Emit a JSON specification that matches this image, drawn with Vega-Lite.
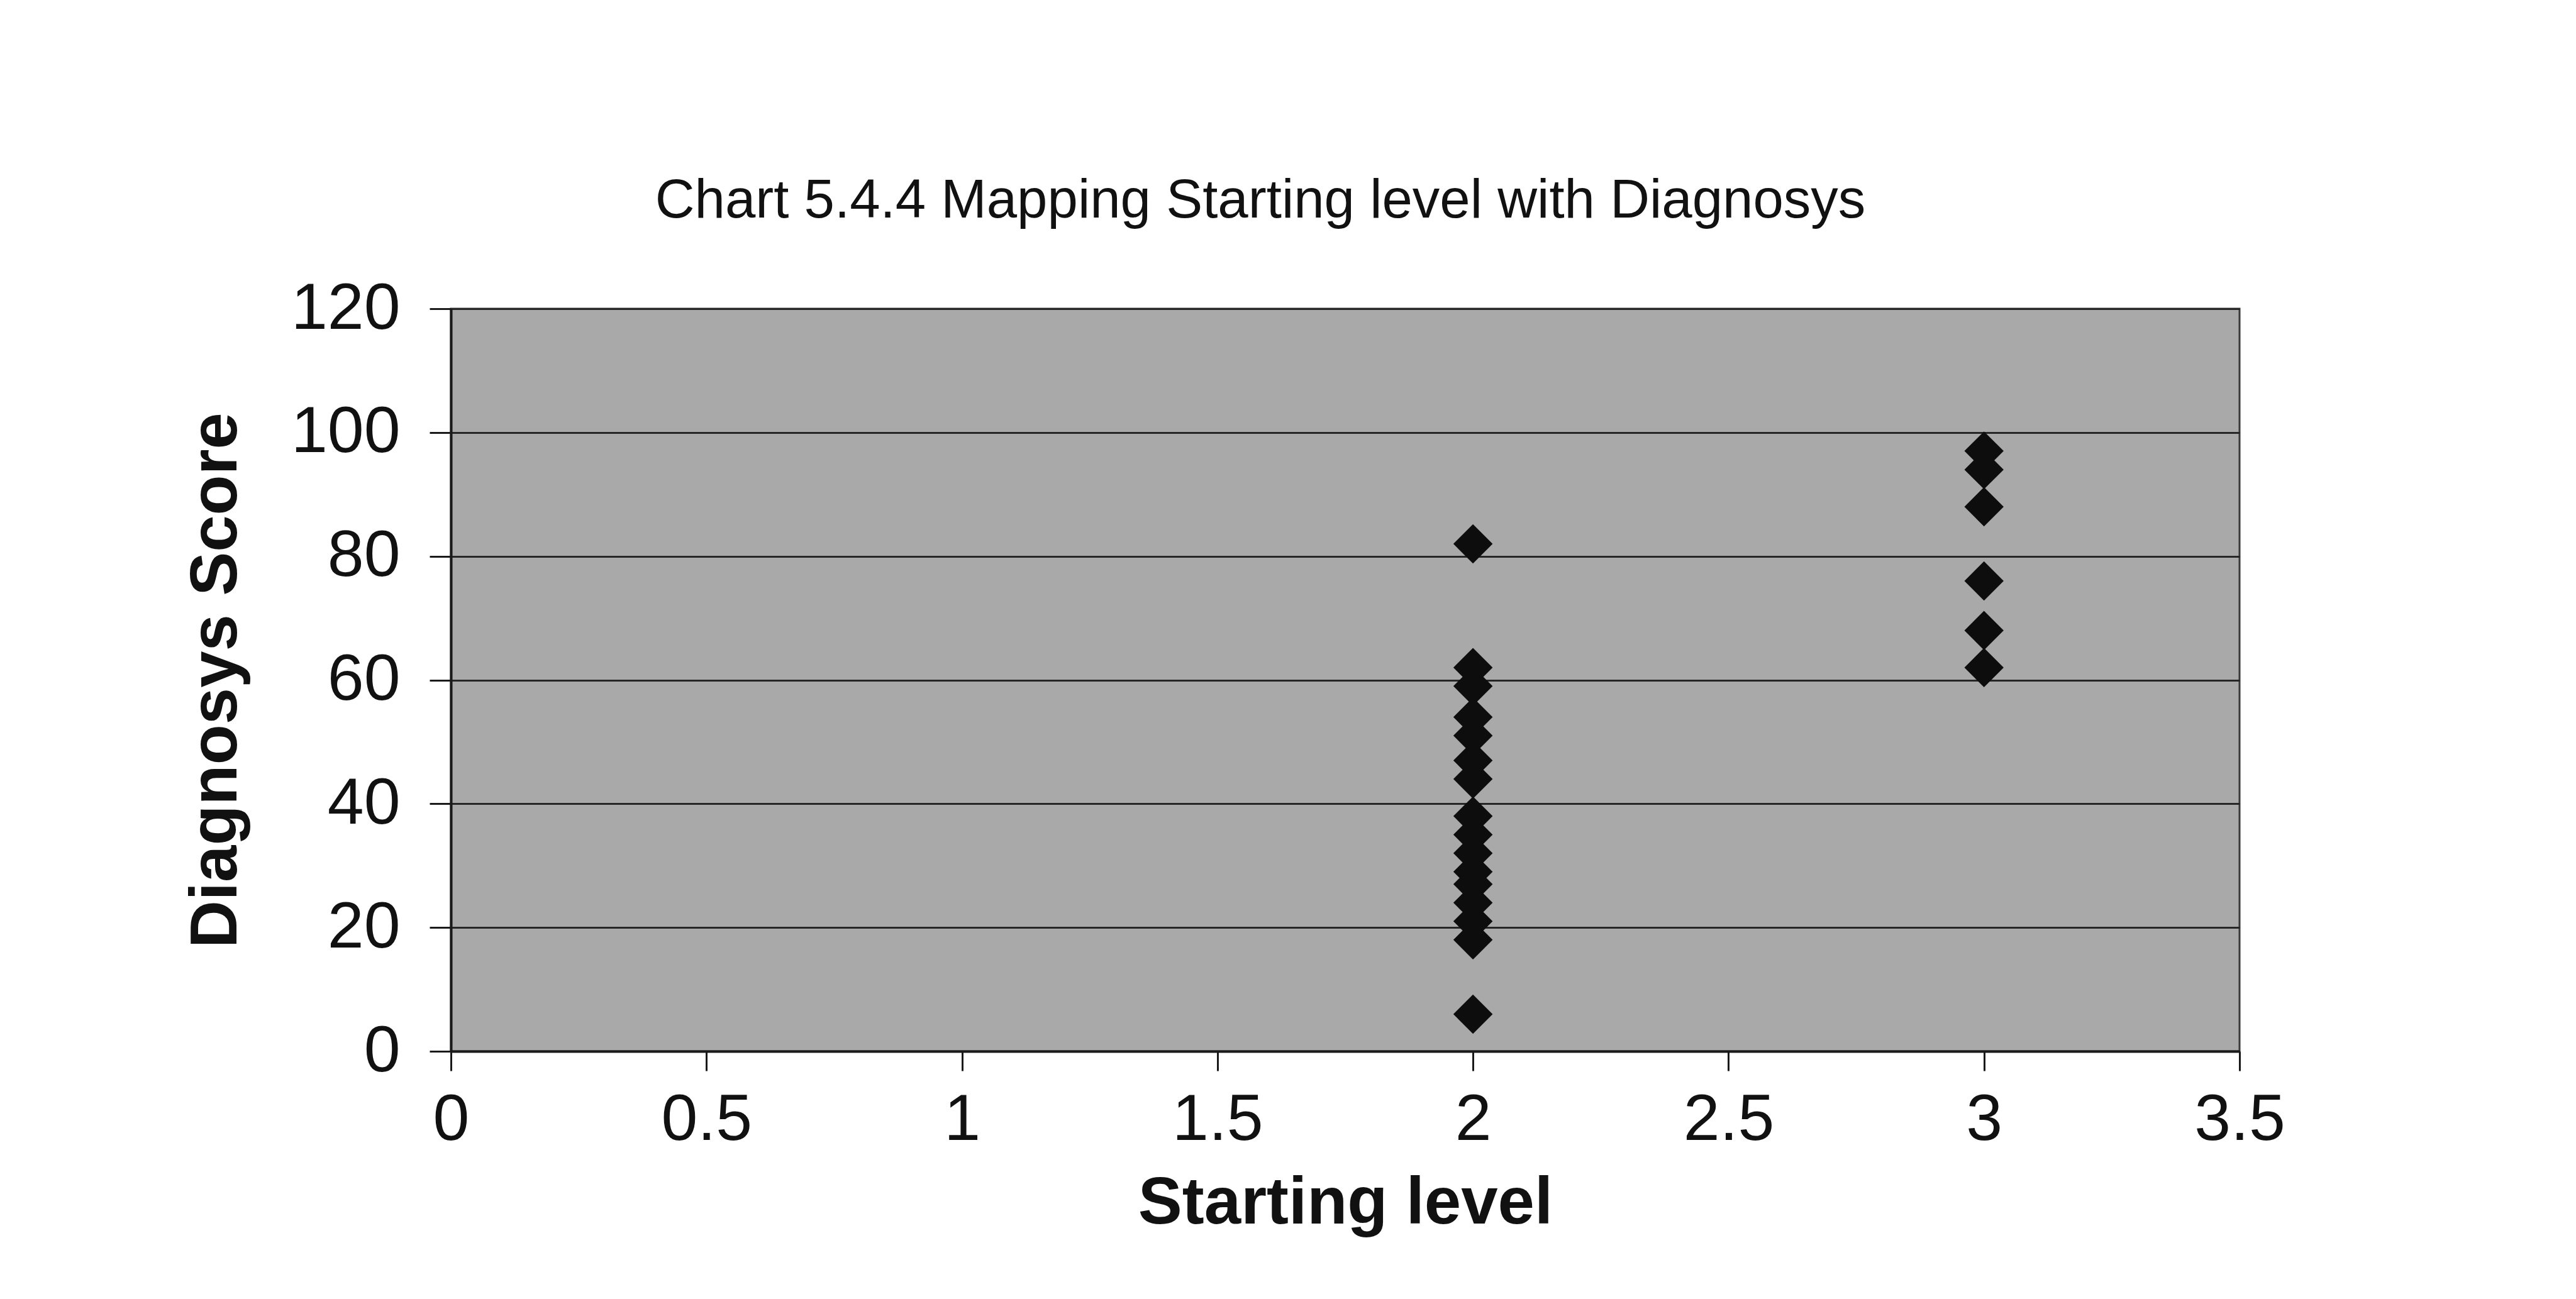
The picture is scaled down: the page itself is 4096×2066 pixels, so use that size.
{
  "$schema": "https://vega.github.io/schema/vega-lite/v6.json",
  "width": 2844,
  "height": 1181,
  "autosize": {"type": "none"},
  "padding": {"left": 717, "top": 491, "right": 535, "bottom": 394},
  "background": "white",
  "title": {
    "text": "Chart 5.4.4 Mapping Starting level with Diagnosys",
    "font": "Liberation Sans",
    "fontSize": 87,
    "fontWeight": "normal",
    "color": "#111111",
    "anchor": "middle",
    "frame": "group",
    "baseline": "alphabetic",
    "dx": -135,
    "offset": 6
  },
  "data": {
    "values": [
      {"level": 2, "score": 82},
      {"level": 2, "score": 62},
      {"level": 2, "score": 59},
      {"level": 2, "score": 54},
      {"level": 2, "score": 51},
      {"level": 2, "score": 47},
      {"level": 2, "score": 44},
      {"level": 2, "score": 38},
      {"level": 2, "score": 35},
      {"level": 2, "score": 32},
      {"level": 2, "score": 29},
      {"level": 2, "score": 27},
      {"level": 2, "score": 24},
      {"level": 2, "score": 21},
      {"level": 2, "score": 18},
      {"level": 2, "score": 6},
      {"level": 3, "score": 97},
      {"level": 3, "score": 94},
      {"level": 3, "score": 88},
      {"level": 3, "score": 76},
      {"level": 3, "score": 68},
      {"level": 3, "score": 62}
    ]
  },
  "mark": {
    "type": "point",
    "shape": "diamond",
    "filled": true,
    "size": 3900,
    "color": "#0d0d0d",
    "opacity": 1,
    "strokeWidth": 0
  },
  "encoding": {
    "x": {
      "field": "level",
      "type": "quantitative",
      "scale": {"domain": [0, 3.5], "nice": false, "zero": false},
      "axis": {
        "values": [0, 0.5, 1, 1.5, 2, 2.5, 3, 3.5],
        "format": "~g",
        "grid": false,
        "domainColor": "#1a1a1a",
        "domainWidth": 4,
        "tickColor": "#1a1a1a",
        "tickWidth": 3,
        "tickSize": 31,
        "labelFont": "Liberation Sans",
        "labelFontSize": 104,
        "labelColor": "#111111",
        "labelPadding": 27,
        "labelFlush": false,
        "labelOverlap": false,
        "title": "Starting level",
        "titleFont": "Liberation Sans",
        "titleFontSize": 105,
        "titleFontWeight": "bold",
        "titleColor": "#111111",
        "titlePadding": 29
      }
    },
    "y": {
      "field": "score",
      "type": "quantitative",
      "scale": {"domain": [0, 120], "nice": false, "zero": true},
      "axis": {
        "values": [0, 20, 40, 60, 80, 100, 120],
        "grid": true,
        "gridColor": "#262626",
        "gridWidth": 3,
        "gridOpacity": 1,
        "domainColor": "#1a1a1a",
        "domainWidth": 4,
        "tickColor": "#1a1a1a",
        "tickWidth": 3,
        "tickSize": 34,
        "labelFont": "Liberation Sans",
        "labelFontSize": 104,
        "labelColor": "#111111",
        "labelPadding": 47,
        "labelFlush": false,
        "labelOverlap": false,
        "title": "Diagnosys Score",
        "titleFont": "Liberation Sans",
        "titleFontSize": 105,
        "titleFontWeight": "bold",
        "titleColor": "#111111",
        "titlePadding": 120
      }
    }
  },
  "config": {
    "view": {"fill": "#a9a9a9", "stroke": "#3a3a3a", "strokeWidth": 3}
  }
}
